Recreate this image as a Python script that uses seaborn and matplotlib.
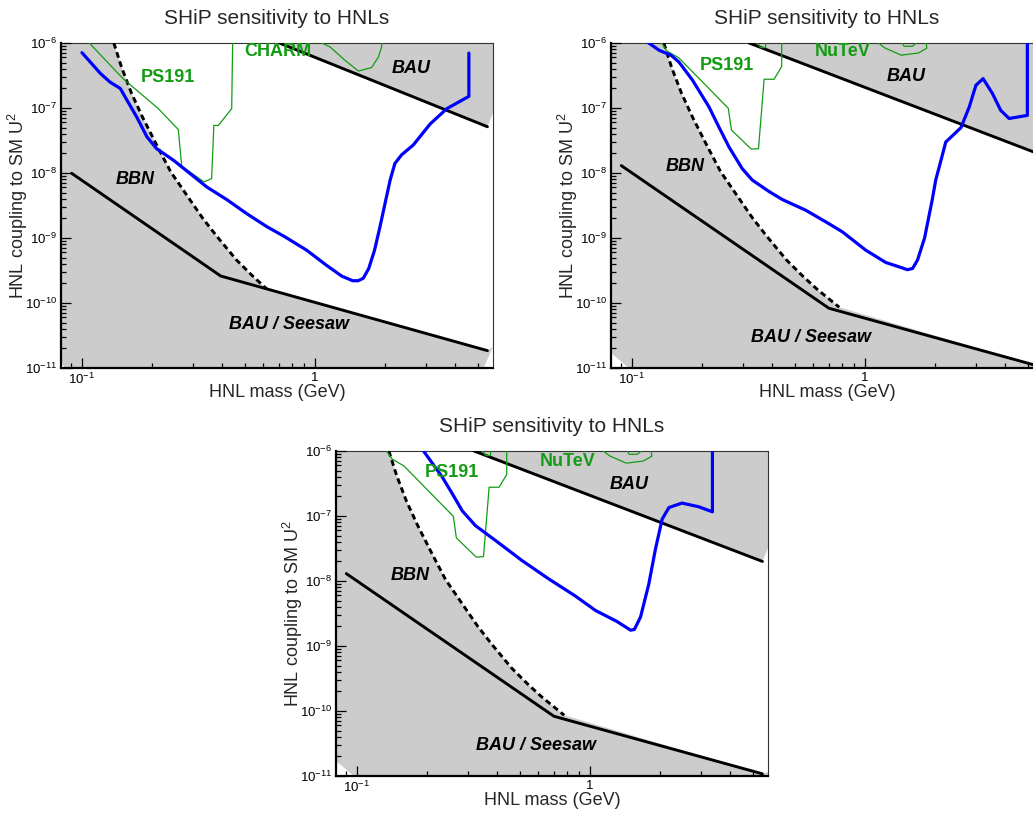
import matplotlib
matplotlib.use("Agg")
import matplotlib.pyplot as plt
import matplotlib.ticker as mticker
import seaborn as sns

sns.set_style("ticks")
plt.rcParams["font.family"] = ["Liberation Sans", "DejaVu Sans"]
plt.rcParams["mathtext.fontset"] = "custom"
plt.rcParams["mathtext.rm"] = "Liberation Sans"
plt.rcParams["mathtext.it"] = "Liberation Sans:italic"
plt.rcParams["mathtext.bf"] = "Liberation Sans:bold"
plt.rcParams["axes.axisbelow"] = False

# ---- data: HNL mass (GeV) and coupling U^2 ----
# BBN bound (dashed), same curve in all three plots
bbn_mass = [0.137, 0.148, 0.163, 0.181, 0.208, 0.24, 0.28, 0.33, 0.38, 0.46, 0.54, 0.62, 0.775]
bbn_u2 = [1e-6, 4.2e-7, 1.7e-7, 7.5e-8, 2.8e-8, 1.05e-8, 4.7e-9, 2.0e-9, 1.05e-9, 4.6e-10, 2.6e-10, 1.65e-10, 8.6e-11]

# BAU / seesaw lower line
seesaw1_mass = [0.0903, 0.394, 5.49]
seesaw1_u2 = [9.9e-9, 2.6e-10, 1.85e-11]
seesaw23_mass = [0.090, 0.70, 5.49]
seesaw23_u2 = [1.3e-8, 8.3e-11, 1.08e-11]

# BAU upper line
bau1_mass = [0.703, 5.49]
bau1_u2 = [1e-6, 5.15e-8]
bau23_mass = [0.318, 5.49]
bau23_u2 = [1e-6, 2.0e-8]

# SHiP sensitivity curves
ship1_mass = [0.100, 0.120, 0.132, 0.146, 0.156, 0.172, 0.190, 0.209, 0.247, 0.291, 0.343, 0.418,
              0.509, 0.62, 0.74, 0.92, 1.12, 1.30, 1.45, 1.53, 1.61, 1.70, 1.80, 1.90, 2.00, 2.10,
              2.20, 2.35, 2.64, 3.12, 3.68, 4.57, 4.57]
ship1_u2 = [7.1e-7, 3.4e-7, 2.5e-7, 2.0e-7, 1.32e-7, 7.2e-8, 3.6e-8, 2.37e-8, 1.57e-8, 9.8e-9, 6.1e-9,
            3.9e-9, 2.37e-9, 1.5e-9, 1.05e-9, 6.5e-10, 3.8e-10, 2.6e-10, 2.2e-10, 2.2e-10, 2.4e-10,
            3.4e-10, 6.5e-10, 1.5e-9, 3.5e-9, 7.8e-9, 1.4e-8, 1.9e-8, 2.7e-8, 5.7e-8, 9.8e-8, 1.51e-7, 7.0e-7]

ship2_mass = [0.118, 0.131, 0.147, 0.159, 0.182, 0.214, 0.236, 0.261, 0.297, 0.328, 0.387, 0.442,
              0.557, 0.70, 0.80, 1.007, 1.227, 1.40, 1.52, 1.60, 1.68, 1.80, 1.94, 2.01, 2.11, 2.22,
              2.40, 2.58, 2.80, 2.99, 3.21, 3.52, 3.82, 4.15, 4.97, 4.97]
ship2_u2 = [1e-6, 7.7e-7, 6.5e-7, 5.1e-7, 2.67e-7, 1.04e-7, 5.1e-8, 2.5e-8, 1.17e-8, 7.8e-9, 5.2e-9,
            3.9e-9, 2.67e-9, 1.66e-9, 1.24e-9, 6.5e-10, 4.2e-10, 3.6e-10, 3.25e-10, 3.4e-10, 4.6e-10,
            1.0e-9, 3.8e-9, 7.8e-9, 1.5e-8, 3.0e-8, 3.9e-8, 5.0e-8, 1.04e-7, 2.24e-7, 2.83e-7, 1.67e-7,
            9.2e-8, 6.9e-8, 7.7e-8, 1.2e-6]

ship3_mass = [0.193, 0.232, 0.2565, 0.283, 0.3225, 0.393, 0.51, 0.664, 0.863, 1.058, 1.30, 1.493,
              1.55, 1.647, 1.787, 1.908, 2.04, 2.18, 2.48, 2.92, 3.35, 3.35]
ship3_u2 = [1e-6, 4.0e-7, 2.2e-7, 1.2e-7, 7.1e-8, 4.2e-8, 2.07e-8, 1.08e-8, 5.9e-9, 3.5e-9, 2.4e-9,
            1.75e-9, 1.8e-9, 2.8e-9, 9.0e-9, 3.1e-8, 9.0e-8, 1.35e-7, 1.58e-7, 1.39e-7, 1.16e-7, 1e-6]

# existing limits (green)
ps191_1_mass = [0.1075, 0.150, 0.2126, 0.259, 0.268, 0.334, 0.360, 0.368, 0.385, 0.439, 0.443]
ps191_1_u2 = [1e-6, 2.83e-7, 9.8e-8, 4.66e-8, 1.27e-8, 7.3e-9, 8.2e-9, 5.4e-8, 5.4e-8, 9.8e-8, 1e-6]
charm_mass = [1.069, 1.16, 1.345, 1.535, 1.75, 1.87, 1.93, 1.93]
charm_u2 = [1e-6, 8.7e-7, 5.4e-7, 3.7e-7, 4.2e-7, 6.1e-7, 8.7e-7, 1e-6]

ps191_mass = [0.134, 0.1415, 0.159, 0.259, 0.267, 0.325, 0.349, 0.369, 0.407, 0.439, 0.439]
ps191_u2 = [1e-6, 7.5e-7, 5.9e-7, 9.9e-8, 4.6e-8, 2.33e-8, 2.37e-8, 2.77e-7, 2.77e-7, 4.35e-7, 1e-6]
notch_mass = [0.345, 0.357, 0.3745, 0.3745]
notch_u2 = [1e-6, 8.5e-7, 8.5e-7, 1e-6]
nutev_mass = [1.14, 1.215, 1.43, 1.69, 1.84, 1.83]
nutev_u2 = [1e-6, 8.4e-7, 6.5e-7, 7.0e-7, 8.3e-7, 1e-6]
nutev_in_mass = [1.446, 1.47, 1.594, 1.66]
nutev_in_u2 = [1e-6, 8.9e-7, 8.9e-7, 1e-6]

# excluded (grey) region: corner pieces not on the lines above
upper1_mass = [0.703, 5.8, 5.8, 5.49]
upper1_u2 = [1e-6, 1e-6, 8.3e-8, 5.15e-8]
upper23_mass = [0.318, 5.8, 5.8, 5.49]
upper23_u2 = [1e-6, 1e-6, 3.2e-8, 2.0e-8]
tail1_mass = [5.49, 5.8, 5.28, 0.0845, 0.0813]
tail1_u2 = [1.85e-11, 2.1e-11, 1e-11, 1e-11, 1.25e-11]
tail23_mass = [5.49, 5.8, 5.8, 0.097, 0.0813]
tail23_u2 = [1.08e-11, 1.15e-11, 1e-11, 1e-11, 1.7e-11]

XMIN, XMAX = 0.0813, 5.8
GREY = "#cccccc"
GREEN = "#139b13"
BLUE = "#0000ff"


def line(ax, m, u, color, lw, z, ls="-"):
    sns.lineplot(x=m, y=u, sort=False, estimator=None, ax=ax, color=color,
                 linewidth=lw, linestyle=ls, zorder=z, legend=False)


def draw_panel(ax, ship, bbn_n, seesaw, bau, upper, tail, greens, labels):
    ax.set_xscale("log")
    ax.set_yscale("log")
    ax.set_xlim(XMIN, XMAX)
    ax.set_ylim(1e-11, 1e-6)
    ax.set_axisbelow(False)

    # grey excluded regions
    low_m = [XMIN] + bbn_mass[:bbn_n] + tail[0]
    low_u = [1e-6] + bbn_u2[:bbn_n] + tail[1]
    ax.fill(low_m, low_u, color=GREY, lw=0, zorder=1)
    ax.fill(upper[0], upper[1], color=GREY, lw=0, zorder=1)

    line(ax, seesaw[0], seesaw[1], "black", 2.1, 3)
    line(ax, bau[0], bau[1], "black", 2.1, 3)
    line(ax, bbn_mass[:bbn_n], bbn_u2[:bbn_n], "black", 2.1, 3, ls=(0, (2.0, 1.3)))
    for gm, gu in greens:
        line(ax, gm, gu, GREEN, 0.9, 4)
    line(ax, ship[0], ship[1], BLUE, 2.3, 5)

    for txt, m, u, col, italic in labels:
        ax.text(m, u, txt, ha="center", va="center", fontsize=13, fontweight="bold",
                fontstyle="italic" if italic else "normal", color=col, zorder=6)

    ax.set_title("SHiP sensitivity to HNLs", fontsize=15, pad=14)
    ax.set_xlabel("HNL mass (GeV)", fontsize=13)
    ax.set_ylabel("HNL coupling to SM U$^{2}$", fontsize=13)
    ax.xaxis.set_label_coords(0.5, -0.074)
    ax.xaxis.label.set_va("center")
    ax.yaxis.set_label_coords(-0.1, 0.5)
    ax.yaxis.label.set_va("center")

    ax.set_xticks([0.1, 1])
    ax.set_xticklabels([r"$10^{-1}$", "1"])
    ax.xaxis.set_minor_formatter(mticker.NullFormatter())
    ax.set_yticks([1e-11, 1e-10, 1e-9, 1e-8, 1e-7, 1e-6])
    ax.yaxis.set_minor_locator(mticker.LogLocator(subs=range(2, 10)))
    ax.yaxis.set_minor_formatter(mticker.NullFormatter())
    ax.tick_params(which="both", direction="in", top=False, right=False,
                   width=0.9, color="black", labelcolor="black")
    ax.tick_params(which="major", length=7, labelsize=9.5, pad=3)
    ax.tick_params(which="minor", length=3.5)
    for s in ["left", "bottom"]:
        ax.spines[s].set_linewidth(1.6)
        ax.spines[s].set_color("black")
    for s in ["top", "right"]:
        ax.spines[s].set_linewidth(0.8)
        ax.spines[s].set_color("#333333")
    ax.set_facecolor("white")


fig = plt.figure(figsize=(10.33, 8.16), dpi=100)
W, H = 1033, 816
ax1 = fig.add_axes([61 / W, (H - 368) / H, 432 / W, 325 / H])
ax2 = fig.add_axes([611 / W, (H - 368) / H, 432 / W, 325 / H])
ax3 = fig.add_axes([336 / W, (H - 776) / H, 432 / W, 325 / H])

draw_panel(ax1, (ship1_mass, ship1_u2), len(bbn_mass) - 1,
           (seesaw1_mass, seesaw1_u2), (bau1_mass, bau1_u2),
           (upper1_mass, upper1_u2), (tail1_mass, tail1_u2),
           [(ps191_1_mass, ps191_1_u2), (charm_mass, charm_u2)],
           [("PS191", 0.233, 2.94e-7, GREEN, False), ("CHARM", 0.692, 7.3e-7, GREEN, False),
            ("BAU", 2.58, 4.0e-7, "black", True), ("BBN", 0.169, 7.9e-9, "black", True),
            ("BAU / Seesaw", 0.776, 4.7e-11, "black", True)])

panel23_greens = [(ps191_mass, ps191_u2), (notch_mass, notch_u2),
                  (nutev_mass, nutev_u2), (nutev_in_mass, nutev_in_u2)]

draw_panel(ax2, (ship2_mass, ship2_u2), len(bbn_mass),
           (seesaw23_mass, seesaw23_u2), (bau23_mass, bau23_u2),
           (upper23_mass, upper23_u2), (tail23_mass, tail23_u2), panel23_greens,
           [("PS191", 0.2565, 4.5e-7, GREEN, False), ("NuTeV", 0.805, 7.3e-7, GREEN, False),
            ("BAU", 1.494, 3.0e-7, "black", True), ("BBN", 0.169, 1.24e-8, "black", True),
            ("BAU / Seesaw", 0.588, 2.95e-11, "black", True)])

draw_panel(ax3, (ship3_mass, ship3_u2), len(bbn_mass),
           (seesaw23_mass, seesaw23_u2), (bau23_mass, bau23_u2),
           (upper23_mass, upper23_u2), (tail23_mass, tail23_u2), panel23_greens,
           [("PS191", 0.2565, 4.6e-7, GREEN, False), ("NuTeV", 0.80, 7.0e-7, GREEN, False),
            ("BAU", 1.478, 3.0e-7, "black", True), ("BBN", 0.1684, 1.23e-8, "black", True),
            ("BAU / Seesaw", 0.586, 2.95e-11, "black", True)])

fig.savefig("out.png", dpi=100)
